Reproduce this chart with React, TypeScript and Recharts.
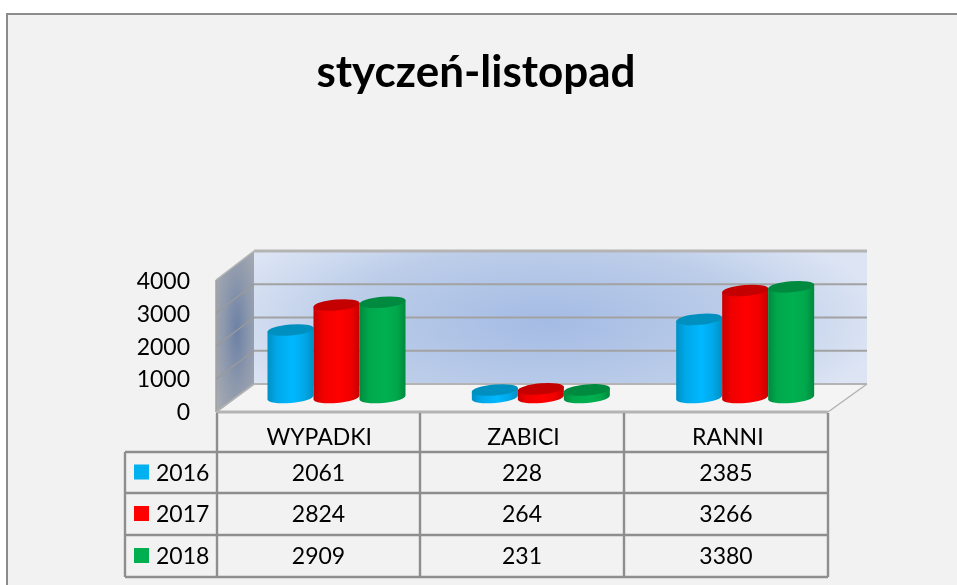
import React from 'react';
import { BarChart, Bar, XAxis, YAxis, CartesianGrid, Customized } from 'recharts';

const categories = ['WYPADKI', 'ZABICI', 'RANNI'];
const years = ['2016', '2017', '2018'];
const values2016 = [2061, 228, 2385];
const values2017 = [2824, 264, 3266];
const values2018 = [2909, 231, 3380];
const yTicks = [0, 1000, 2000, 3000, 4000];
const seriesColors = ['#00b8ff', '#ff0000', '#00b050'];
const legendColors = ['#00b0f0', '#ff0000', '#00b050'];
const seriesValues = [values2016, values2017, values2018];
const title = 'styczeń-listopad';

const chartData = categories.map((name, i) => ({
  name,
  y2016: values2016[i],
  y2017: values2017[i],
  y2018: values2018[i],
}));

const FONT = 'Lato, "Open Sans", sans-serif';
const LINE = '#8e8e8e';
const BASE_Y = 397;
const PLOT_H = 131;
const backY = (y: number) => 384 - ((BASE_Y - y) * 133) / PLOT_H;
const frontY = (y: number) => 412 - ((BASE_Y - y) * 132) / PLOT_H;

const Backdrop = () => (
  <svg width={957} height={585} style={{ position: 'absolute', left: 0, top: 0 }}>
    <defs>
      <radialGradient id="wallGrad" gradientUnits="userSpaceOnUse" cx="545" cy="322" r="340" gradientTransform="translate(0 322) scale(1 0.36) translate(0 -322)">
        <stop offset="0" stopColor="#a4bbe4" />
        <stop offset="0.6" stopColor="#bccde9" />
        <stop offset="1" stopColor="#dde5f4" />
      </radialGradient>
      <radialGradient id="sideGrad" cx="0.55" cy="0.5" r="0.7">
        <stop offset="0" stopColor="#6c81a6" />
        <stop offset="0.5" stopColor="#8e99ad" />
        <stop offset="1" stopColor="#a8abb1" />
      </radialGradient>
      {['c0', 'c1', 'c2'].map((id, i) => {
        const dark = ['#0090c4', '#c80000', '#008a3e'][i];
        const mid = ['#00a8e8', '#f00000', '#00a84c'][i];
        return (
          <linearGradient id={id} key={id} x1="0" y1="0" x2="1" y2="0">
            <stop offset="0" stopColor={dark} />
            <stop offset="0.2" stopColor={mid} />
            <stop offset="0.55" stopColor={seriesColors[i]} />
            <stop offset="0.8" stopColor={mid} />
            <stop offset="1" stopColor={dark} />
          </linearGradient>
        );
      })}
    </defs>
    <rect x={7} y={14} width={960} height={580} fill="#f2f2f2" stroke="#8c8c8c" strokeWidth={2} />
    <text x={476} y={87} textAnchor="middle" fontFamily={FONT} fontWeight={700} fontSize={44} fill="#000">
      {title}
    </text>
    <rect x={254} y={251} width={613} height={133} fill="url(#wallGrad)" />
    <polygon points="216,280 254,251 254,384 216,412" fill="url(#sideGrad)" />
    <polygon points="216,412 254,384 867,384 828,412" fill="#f4f4f4" />
    <line x1={254} y1={251} x2={867} y2={251} stroke="#b4b4b4" strokeWidth={3} />
    <line x1={254} y1={251} x2={216} y2={280} stroke="#b4b4b4" strokeWidth={1.5} />
    <line x1={867} y1={384} x2={828} y2={412} stroke="#b4b4b4" strokeWidth={1.5} />
    <line x1={254} y1={384} x2={216} y2={412} stroke="#b0b0b0" strokeWidth={2} />
    <line x1={216} y1={280} x2={216} y2={412} stroke="#a0a0a0" strokeWidth={1.5} />
  </svg>
);

const gridLine = (props: any) => {
  const y = props.y1;
  const by = backY(y);
  const fy = frontY(y);
  const isEdge = y >= BASE_Y - 0.5 || y <= BASE_Y - PLOT_H + 0.5;
  return (
    <g key={props.key ?? y}>
      {!isEdge && <line x1={254} y1={by} x2={867} y2={by} stroke="#a2a2a2" strokeWidth={2} />}
      {!isEdge && <line x1={254} y1={by} x2={216} y2={fy} stroke="#9a9a9a" strokeWidth={1.5} />}
      {y >= BASE_Y - 0.5 && <line x1={254} y1={by} x2={867} y2={by} stroke="#b4b4b4" strokeWidth={2} />}
    </g>
  );
};

const RX_TILT = 2;
const cylinder = (index: number) => (props: any) => {
  const { x, y, width, height } = props;
  const rx = width / 2;
  const ry = 5.5;
  const cx = x + rx;
  const bottom = y + height;
  const topColor = ['#0090c0', '#c40000', '#008a40'][index];
  const deg = (-Math.atan2(RX_TILT, rx) * 180) / Math.PI;
  const body = `M ${x} ${y + RX_TILT} L ${x + width} ${y - RX_TILT} L ${x + width} ${bottom - RX_TILT} A ${rx} ${ry} ${deg} 0 1 ${x} ${bottom + RX_TILT} Z`;
  return (
    <g transform="translate(-0.5 0.5)">
      <path d={body} fill={`url(#c${index})`} />
      <ellipse cx={cx} cy={y} rx={rx + 0.2} ry={ry} fill={topColor} transform={`rotate(${deg} ${cx} ${y})`} />
    </g>
  );
};

const YTick = (props: any) => {
  const { y, payload } = props;
  return (
    <text x={190} y={y + 23} textAnchor="end" fontFamily={FONT} fontSize={23} fill="#000">
      {payload.value}
    </text>
  );
};

const XTick = (props: any) => {
  const { x, payload } = props;
  return (
    <text x={x - 18} y={445} textAnchor="middle" fontFamily={FONT} fontSize={23} fill="#000">
      {payload.value}
    </text>
  );
};

const colEdges = [217, 420, 624, 828];
const rowEdges = [452, 493, 535, 577];

const DataTable = () => (
  <g>
    <line x1={216} y1={412} x2={828} y2={412} stroke="#b4b4b4" strokeWidth={3} />
    {rowEdges.map((y) => (
      <line key={y} x1={125} y1={y} x2={828} y2={y} stroke={LINE} strokeWidth={2.4} />
    ))}
    <line x1={125} y1={452} x2={125} y2={577} stroke={LINE} strokeWidth={2.4} />
    {colEdges.map((x) => (
      <line key={x} x1={x} y1={413} x2={x} y2={577} stroke={LINE} strokeWidth={2.4} />
    ))}
    {years.map((year, r) => {
      const cy = (rowEdges[r] + rowEdges[r + 1]) / 2;
      return (
        <g key={year}>
          <rect x={134} y={cy - 8} width={15} height={15} fill={legendColors[r]} />
          <text x={156} y={cy + 8} fontFamily={FONT} fontSize={23} fill="#000">
            {year}
          </text>
          {seriesValues[r].map((v, c) => (
            <text key={c} x={(colEdges[c] + colEdges[c + 1]) / 2} y={cy + 8} textAnchor="middle" fontFamily={FONT} fontSize={23} fill="#000">
              {v}
            </text>
          ))}
        </g>
      );
    })}
  </g>
);

export default function App() {
  return (
    <div style={{ position: 'absolute', left: 0, top: 0, width: 957, height: 585, background: '#fff', overflow: 'hidden', filter: 'blur(0.4px)' }}>
      <Backdrop />
      <div style={{ position: 'absolute', left: 0, top: 0 }}>
        <BarChart
          width={957}
          height={585}
          data={chartData}
          margin={{ left: 175, right: 109, top: 266, bottom: 158 }}
          barSize={46}
          barGap={0}
        >
          <CartesianGrid vertical={false} horizontal={gridLine} />
          <XAxis dataKey="name" height={30} axisLine={false} tickLine={false} tick={XTick} interval={0} />
          <YAxis width={60} domain={[0, 4000]} ticks={yTicks} axisLine={false} tickLine={false} tick={YTick} interval={0} />
          <Bar dataKey="y2016" isAnimationActive={false} shape={cylinder(0)} />
          <Bar dataKey="y2017" isAnimationActive={false} shape={cylinder(1)} />
          <Bar dataKey="y2018" isAnimationActive={false} shape={cylinder(2)} />
          <Customized component={DataTable} />
        </BarChart>
      </div>
    </div>
  );
}
